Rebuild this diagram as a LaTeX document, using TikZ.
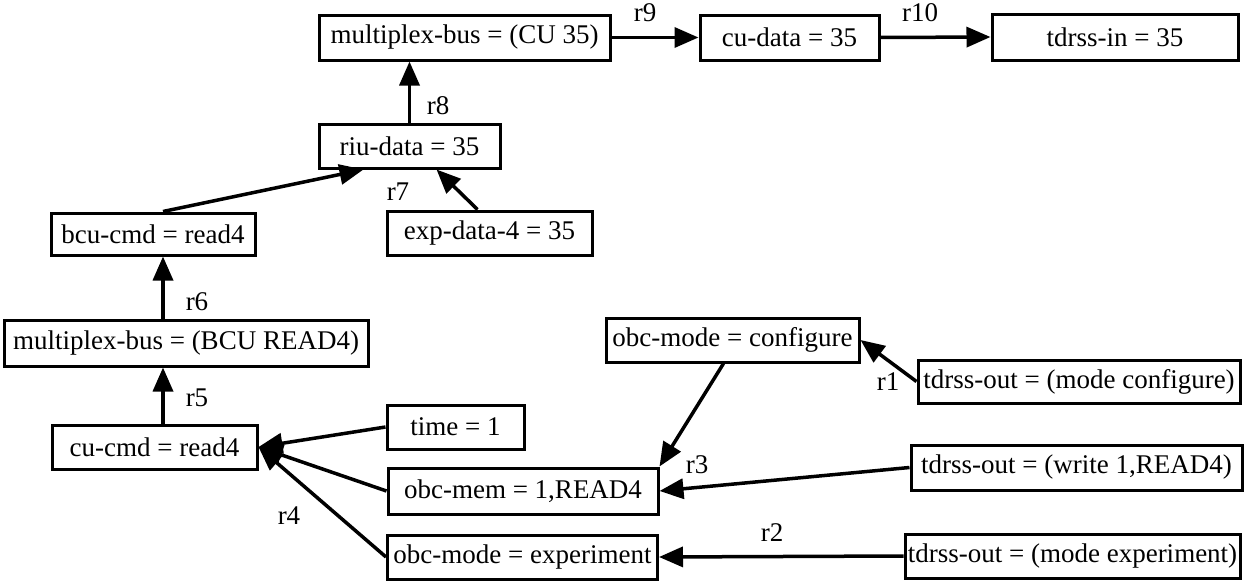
\documentclass[tikz,border=0pt]{standalone}
\usepackage{fontspec}
\setmainfont{Liberation Serif}
\usetikzlibrary{arrows.meta,calc}
\begin{document}
\begin{tikzpicture}[x=1pt,y=-1pt,
  box/.style={draw, line width=3pt, inner sep=0pt, font=\fontsize{27}{29}\selectfont},
  conn/.style={line width=3.5pt, -{Triangle[length=24pt,width=20pt]}},
  lbl/.style={inner sep=0pt, font=\fontsize{27}{29}\selectfont}]
\useasboundingbox (0,0) rectangle (1245,581);
% nodes
\node[box, minimum width=291pt, minimum height=45pt] (mbcu) at (464.5,37.5) {multiplex-bus = (CU 35)};
\node[box, minimum width=179pt, minimum height=45pt] (cudata) at (789.5,37.5) {cu-data = 35};
\node[box, minimum width=246pt, minimum height=46pt] (tdin) at (1115,37) {tdrss-in = 35};
\node[box, minimum width=181pt, minimum height=44pt] (riu) at (409.5,146) {riu-data = 35};
\node[box, minimum width=204pt, minimum height=42pt] (bcu) at (153,234) {bcu-cmd = read4};
\node[box, minimum width=205pt, minimum height=44pt] (exp) at (489.5,233) {exp-data-4 = 35};
\node[box, minimum width=364pt, minimum height=46pt] (mbbcu) at (186,343) {multiplex-bus = (BCU READ4)};
\node[box, minimum width=253pt, minimum height=44pt] (cfg) at (732.5,340) {obc-mode = configure};
\node[box, minimum width=322pt, minimum height=43pt] (tcfg) at (1079,381.5) {tdrss-out = (mode configure)};
\node[box, minimum width=205pt, minimum height=44pt] (cucmd) at (154.5,447) {cu-cmd = read4};
\node[box, minimum width=137pt, minimum height=44pt] (time) at (455.5,427) {time = 1};
\node[box, minimum width=270pt, minimum height=46pt] (mem) at (523,491) {obc-mem = 1,READ4};
\node[box, minimum width=331pt, minimum height=45pt] (twr) at (1076.5,467.5) {tdrss-out = (write 1,READ4)};
\node[box, minimum width=270pt, minimum height=44pt] (expm) at (522.5,557) {obc-mode = experiment};
\node[box, minimum width=335pt, minimum height=44pt] (texp) at (1072.5,556) {tdrss-out = (mode experiment)};
% helper coordinates
\coordinate (colA) at (163,0);
% connectors
\draw[conn] (riu.north) -- (riu.north |- mbcu.south);
\draw[conn] (mbcu.east) -- (cudata.west);
\draw[conn] (cudata.east) -- (tdin.west);
\draw[conn] (colA |- bcu.north) -- ($(riu.south)+(-46,0)$);
\draw[conn] ($(exp.north)+(-12,0)$) -- ($(riu.south)+(27,0)$);
\draw[conn] (colA |- mbbcu.north) -- (colA |- bcu.south);
\draw[conn] (colA |- cucmd.north) -- (colA |- mbbcu.south);
\draw[conn] (time.west) -- (cucmd.east);
\draw[conn] (mem.west) -- (cucmd.east);
\draw[conn] (expm.west) -- (cucmd.east);
\draw[conn] ($(cfg.south)+(-9,0)$) -- (mem.north east);
\draw[conn] (twr.west) -- (mem.east);
\draw[conn] (tcfg.west) -- (cfg.east);
\draw[conn] (texp.west) -- (expm.east);
% labels
\node[lbl] (l8) at (438,106) {r8};
\node[lbl] (l9) at (645,13) {r9};
\node[lbl] (l10) at (920,13) {r10};
\node[lbl] (l7) at (398,192) {r7};
\node[lbl] (l6) at (197,302) {r6};
\node[lbl] (l5) at (197,398) {r5};
\node[lbl] (l4) at (289,516) {r4};
\node[lbl] (l3) at (697,465) {r3};
\node[lbl] (l1) at (888,382) {r1};
\node[lbl] (l2) at (772,533) {r2};
\end{tikzpicture}
\end{document}
